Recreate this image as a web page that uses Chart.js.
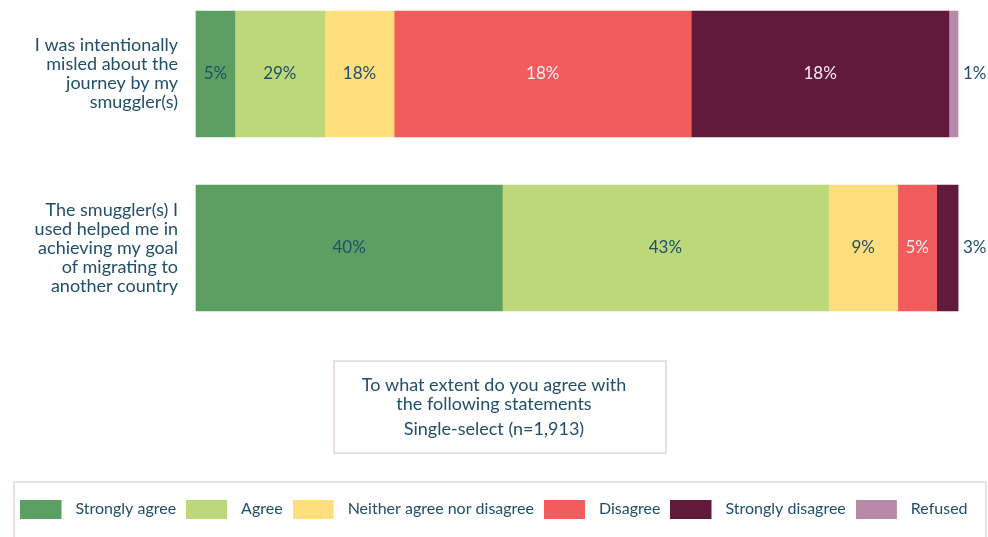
<!DOCTYPE html>
<html>
<head>
<meta charset="utf-8">
<script src="https://cdn.jsdelivr.net/npm/chart.js@4"></script>
<style>
    html, body { margin: 0; padding: 0; background: #fff; }
    #wrap { position: relative; width: 988px; height: 537px; }
</style>
</head>
<body>
<div id="wrap"><canvas id="chart" width="988" height="537"></canvas></div>
<script>
const statements = [
    ['I was intentionally', 'misled about the', 'journey by my', 'smuggler(s)'],
    ['The smuggler(s) I', 'used helped me in', 'achieving my goal', 'of migrating to', 'another country']
]
const responses = ['Strongly agree', 'Agree', 'Neither agree nor disagree', 'Disagree', 'Strongly disagree', 'Refused']

// segment sizes
const misledValues = [5.1, 11.8, 9.1, 39.0, 33.8, 1.2]
const helpedValues = [40.2, 42.8, 9.1, 5.1, 2.8, 0]

// the labels as printed on the bars
const misledLabels = ['5%', '29%', '18%', '18%', '18%', '1%']
const helpedLabels = ['40%', '43%', '9%', '5%', '3%', '']

const colors = ['#5b9f62', '#bdd879', '#fede7d', '#f25c5c', '#611a3c', '#b889a9']
const labelColors = ['#214f6b', '#214f6b', '#214f6b', '#f7eef1', '#f7eef1', '#214f6b']

const textColor = '#214f6b'
const fontFamily = 'Lato, sans-serif'

const legendSwatch = (color) => {
    const c = document.createElement('canvas')
    c.width = 47
    c.height = 19
    const g = c.getContext('2d')
    g.fillStyle = color
    g.fillRect(0, 0, 41, 19)
    return c
}

const barLabels = {
    id: 'barLabels',
    afterDatasetsDraw(chart) {
        const ctx = chart.ctx
        const texts = [misledLabels, helpedLabels]
        ctx.save()
        ctx.font = `17px ${fontFamily}`
        ctx.textBaseline = 'middle'
        chart.data.datasets.forEach((ds, di) => {
            const meta = chart.getDatasetMeta(di)
            meta.data.forEach((bar, i) => {
                const text = texts[i][di]
                if (!text) return
                const w = bar.x - bar.base
                const tw = ctx.measureText(text).width
                if (tw + 6 > w) {
                    ctx.fillStyle = textColor
                    ctx.textAlign = 'left'
                    ctx.fillText(text, bar.x + 5, bar.y)
                } else {
                    ctx.fillStyle = labelColors[di]
                    ctx.textAlign = 'center'
                    ctx.fillText(text, (bar.x + bar.base) / 2, bar.y)
                }
            })
        })
        ctx.restore()
    }
}

const frames = {
    id: 'frames',
    afterDraw(chart) {
        const ctx = chart.ctx
        ctx.save()
        ctx.strokeStyle = '#eadfe3'
        ctx.lineWidth = 2
        ctx.strokeRect(334, 361, 332, 92)
        ctx.strokeRect(14, 482, 972, 80)
        ctx.restore()
    }
}

const data = {
    labels: statements,
    datasets: responses.map((r, i) => ({
        label: r,
        data: [misledValues[i], helpedValues[i]],
        backgroundColor: colors[i],
        borderWidth: 0,
        barThickness: 126,
        clip: false
    }))
}

const config = {
    type: 'bar',
    data: data,
    options: {
        indexAxis: 'y',
        responsive: false,
        animation: false,
        layout: {
            padding: { top: 74, left: 0, right: 0, bottom: 10 }
        },
        scales: {
            x: {
                display: false,
                stacked: true,
                min: 0,
                max: 100
            },
            y: {
                stacked: true,
                offset: false,
                grid: { display: false, drawTicks: false },
                border: { display: false },
                ticks: {
                    color: textColor,
                    padding: 18,
                    font: { family: fontFamily, size: 18, lineHeight: '19px' }
                },
                afterFit: (scale) => { scale.width = 196 }
            },
            // empty right-hand axis, only keeps room for the outside labels
            y2: {
                position: 'right',
                grid: { display: false, drawTicks: false },
                border: { display: false },
                ticks: { display: false },
                afterFit: (scale) => { scale.width = 30 }
            }
        },
        plugins: {
            tooltip: { enabled: false },
            title: {
                display: true,
                position: 'bottom',
                weight: 100,
                text: ['To what extent do you agree with', 'the following statements'],
                color: textColor,
                font: { family: fontFamily, size: 18, weight: 'normal', lineHeight: '19px' },
                padding: { top: 128, bottom: 0 }
            },
            subtitle: {
                display: true,
                position: 'bottom',
                weight: 200,
                text: 'Single-select (n=1,913)',
                color: textColor,
                font: { family: fontFamily, size: 18, lineHeight: '19px' },
                padding: { top: 6, bottom: 52 }
            },
            legend: {
                position: 'bottom',
                labels: {
                    usePointStyle: true,
                    pointStyleWidth: 47,
                    padding: 10,
                    color: textColor,
                    font: { family: fontFamily, size: 16 },
                    generateLabels: (chart) => chart.data.datasets.map((ds, i) => ({
                        text: ds.label,
                        fillStyle: colors[i],
                        strokeStyle: colors[i],
                        lineWidth: 0,
                        pointStyle: legendSwatch(colors[i]),
                        fontColor: textColor,
                        hidden: false,
                        datasetIndex: i
                    }))
                }
            }
        }
    },
    plugins: [barLabels, frames]
}

const ctx = document.getElementById('chart').getContext('2d')
const chart = new Chart(ctx, config)
</script>
</body>
</html>
